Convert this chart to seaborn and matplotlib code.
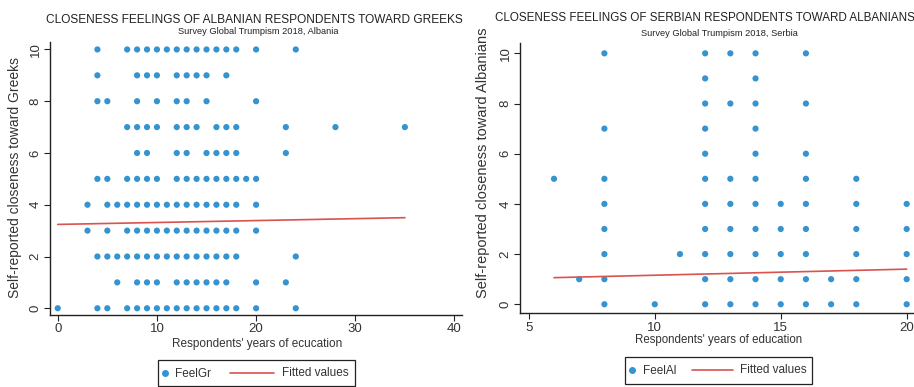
import matplotlib
matplotlib.use("Agg")
import matplotlib.pyplot as plt
import seaborn as sns
import pandas as pd
from matplotlib.lines import Line2D
from matplotlib.patches import Rectangle

# ---------------- data ----------------
# Albania: years of education for each closeness level (FeelGr)
gr_levels = [10, 9, 8, 7, 6, 5, 4, 3, 2, 1, 0]
gr_edu_10 = [4, 7, 8, 9, 10, 11, 12, 13, 14, 15, 16, 17, 18, 20, 24]
gr_edu_9 = [4, 8, 9, 10, 12, 13, 14, 15, 17]
gr_edu_8 = [4, 5, 8, 10, 12, 13, 15, 20]
gr_edu_7 = [7, 8, 9, 10, 12, 13, 14, 16, 17, 18, 23, 28, 35]
gr_edu_6 = [8, 9, 12, 13, 15, 16, 17, 18, 23]
gr_edu_5 = [4, 5, 7, 8, 9, 10, 12, 13, 14, 15, 16, 17, 18, 19, 20]
gr_edu_4 = [3, 5, 6, 7, 8, 9, 10, 11, 12, 13, 14, 15, 16, 17, 18, 20]
gr_edu_3 = [3, 5, 7, 8, 9, 10, 11, 12, 13, 14, 15, 16, 17, 18, 20]
gr_edu_2 = [4, 5, 6, 7, 8, 9, 10, 11, 12, 13, 14, 15, 16, 17, 18, 24]
gr_edu_1 = [6, 8, 9, 10, 12, 13, 14, 15, 16, 17, 20, 23]
gr_edu_0 = [0, 4, 5, 7, 8, 9, 10, 11, 12, 13, 14, 15, 16, 17, 18, 20, 24]
gr_fit_x = [0, 35]
gr_fit_y = [3.24, 3.50]

# Serbia: years of education for each closeness level (FeelAl)
al_levels = [10, 9, 8, 7, 6, 5, 4, 3, 2, 1, 0]
al_edu_10 = [8, 12, 13, 14, 16]
al_edu_9 = [12, 14]
al_edu_8 = [12, 13, 14, 16]
al_edu_7 = [8, 12, 14]
al_edu_6 = [12, 14, 16]
al_edu_5 = [6, 8, 12, 13, 14, 16, 18]
al_edu_4 = [8, 12, 13, 14, 15, 16, 18, 20]
al_edu_3 = [8, 12, 13, 14, 15, 16, 18, 20]
al_edu_2 = [8, 11, 12, 13, 14, 15, 16, 18, 20]
al_edu_1 = [7, 8, 12, 13, 14, 15, 16, 17, 18, 20]
al_edu_0 = [8, 10, 12, 13, 14, 15, 16, 17, 18, 20]
al_fit_x = [6, 20]
al_fit_y = [1.06, 1.40]

gr_rows = [gr_edu_10, gr_edu_9, gr_edu_8, gr_edu_7, gr_edu_6, gr_edu_5,
           gr_edu_4, gr_edu_3, gr_edu_2, gr_edu_1, gr_edu_0]
al_rows = [al_edu_10, al_edu_9, al_edu_8, al_edu_7, al_edu_6, al_edu_5,
           al_edu_4, al_edu_3, al_edu_2, al_edu_1, al_edu_0]


def build(levels, rows):
    xs, ys = [], []
    for lvl, r in zip(levels, rows):
        xs += r
        ys += [lvl] * len(r)
    return pd.DataFrame({"edu": xs, "feel": ys})


df_gr = build(gr_levels, gr_rows)
df_al = build(al_levels, al_rows)
fit_gr = pd.DataFrame({"edu": gr_fit_x, "fit": gr_fit_y})
fit_al = pd.DataFrame({"edu": al_fit_x, "fit": al_fit_y})

# ---------------- style ----------------
sns.set_theme(style="ticks")
plt.rcParams["font.family"] = ["Liberation Sans", "DejaVu Sans"]

DOT = "#3593cf"
RED = "#d9534f"
INK = "#222222"
TXT = "#333333"

W, H = 914, 387
fig = plt.figure(figsize=(W / 100, H / 100), dpi=100)


def fx(px):
    return px / W


def fy(py):
    return 1 - py / H


ax1 = fig.add_axes([fx(50), fy(315), fx(462 - 50), fy(41.7) - fy(315)])
ax2 = fig.add_axes([fx(520), fy(313.3), fx(915.5 - 520), fy(43.3) - fy(313.3)])


def style_axis(ax, xticks, xlim, ylim):
    ax.set_xlim(*xlim)
    ax.set_ylim(*ylim)
    ax.set_xticks(xticks)
    ax.set_yticks([0, 2, 4, 6, 8, 10])
    for s in ["top", "right"]:
        ax.spines[s].set_visible(False)
    for s in ["left", "bottom"]:
        ax.spines[s].set_color(INK)
        ax.spines[s].set_linewidth(1.0)
    ax.tick_params(axis="both", colors=INK, labelcolor=TXT,
                   labelsize=9.5, length=4, width=0.8, pad=2)
    for lab in ax.get_yticklabels():
        lab.set_rotation(90)
        lab.set_va("center")
    ax.set_xlabel("")
    ax.set_ylabel("")
    ax.set_facecolor("white")


sns.scatterplot(data=df_gr, x="edu", y="feel", ax=ax1, color=DOT, s=20,
                edgecolor="none", legend=False, clip_on=False)
sns.lineplot(data=fit_gr, x="edu", y="fit", ax=ax1, color=RED, lw=1.2,
             legend=False)
style_axis(ax1, [0, 10, 20, 30, 40], (-0.78, 40.76), (-0.26, 10.3))

sns.scatterplot(data=df_al, x="edu", y="feel", ax=ax2, color=DOT, s=20,
                edgecolor="none", legend=False, clip_on=False)
sns.lineplot(data=fit_al, x="edu", y="fit", ax=ax2, color=RED, lw=1.2,
             legend=False)
style_axis(ax2, [5, 10, 15, 20], (4.65, 20.35), (-0.36, 10.4))

# titles
fig.text(fx(254.5), fy(20), "CLOSENESS FEELINGS OF ALBANIAN RESPONDENTS TOWARD GREEKS",
         ha="center", va="center", fontsize=8.6, color=INK)
fig.text(fx(258), fy(32), "Survey Global Trumpism 2018, Albania",
         ha="center", va="center", fontsize=6.7, color=INK)
fig.text(fx(705), fy(18), "CLOSENESS FEELINGS OF SERBIAN RESPONDENTS TOWARD ALBANIANS",
         ha="center", va="center", fontsize=8.4, color=INK)
fig.text(fx(719), fy(33), "Survey Global Trumpism 2018, Serbia",
         ha="center", va="center", fontsize=6.7, color=INK)

# axis labels
fig.text(fx(15), fy(178), "Self-reported closeness toward Greeks",
         rotation=90, ha="center", va="center", fontsize=10, color=TXT)
fig.text(fx(483), fy(163), "Self-reported closeness toward Albanians",
         rotation=90, ha="center", va="center", fontsize=10.5, color=TXT)
fig.text(fx(257.5), fy(344), "Respondents' years of ecucation",
         ha="center", va="center", fontsize=8.5, color=TXT)
fig.text(fx(719), fy(340), "Respondents' years of education",
         ha="center", va="center", fontsize=8.3, color=TXT)


# legends drawn as boxes with a marker key, a line key and labels
def add_legend(label, box, dot_x, lab_x, line_x0, line_x1, fit_x, cy):
    x0, y0, x1, y1 = box
    fig.patches.append(Rectangle((fx(x0), fy(y1)), fx(x1 - x0), fy(y0) - fy(y1),
                                 transform=fig.transFigure, fill=True,
                                 facecolor="white", edgecolor=INK, lw=0.9))
    fig.lines.append(Line2D([fx(dot_x)], [fy(cy - 1)], marker="o", ls="none",
                            color=DOT, markersize=4,
                            transform=fig.transFigure))
    fig.lines.append(Line2D([fx(line_x0), fx(line_x1)], [fy(cy - 1), fy(cy - 1)],
                            color=RED, lw=1.2, transform=fig.transFigure))
    fig.text(fx(lab_x), fy(cy), label, ha="left", va="center",
             fontsize=8.5, color=TXT)
    fig.text(fx(fit_x), fy(cy - 1), "Fitted values", ha="left", va="center",
             fontsize=8.5, color=TXT)


add_legend("FeelGr", (158, 360, 355, 386), 165, 175, 230, 274, 282, 374)
add_legend("FeelAl", (625, 357, 812, 384), 632, 643, 692, 733, 740, 371)

fig.savefig("out.png", dpi=100, facecolor="white")
